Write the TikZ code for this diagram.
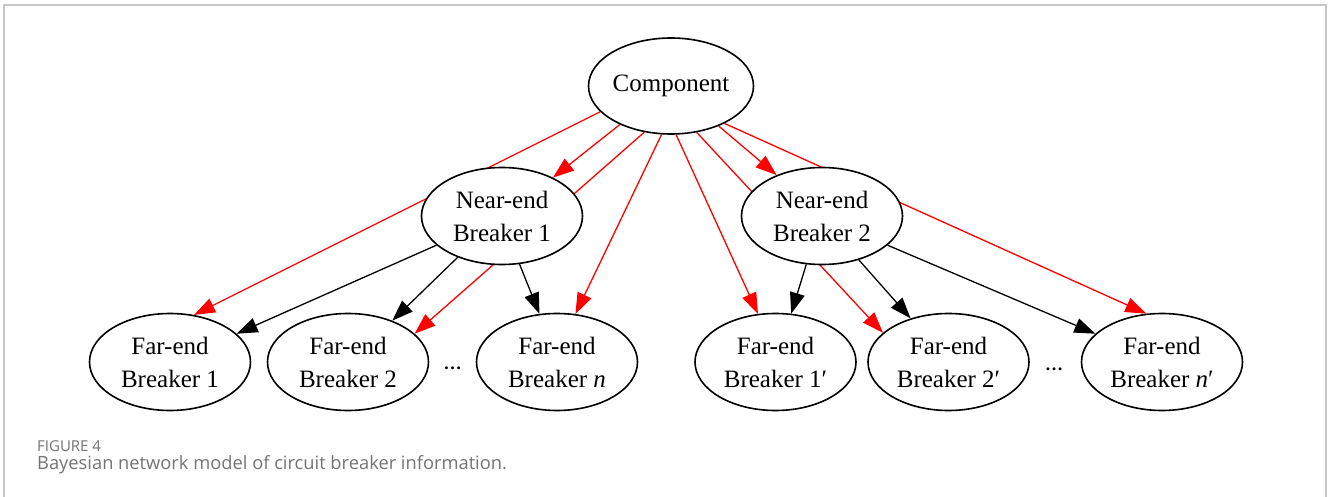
\documentclass[tikz,border=0pt]{standalone}
\usepackage{fontspec}
\setmainfont{Liberation Serif}
\newfontfamily\capfont{Open Sans}
\usetikzlibrary{shapes.geometric,arrows.meta}
\pgfdeclarelayer{edges}
\pgfsetlayers{edges,main}
\definecolor{framegray}{RGB}{200,200,200}
\definecolor{capgray}{RGB}{115,115,115}
\tikzset{
  bnode/.style={ellipse, draw=black, line width=1.6pt, fill=white, inner sep=0pt,
    minimum width=161pt, minimum height=97pt, align=center,
    font=\fontsize{25pt}{33pt}\selectfont},
  toplevel/.style={bnode, minimum height=96pt, minimum width=160pt},
  redarc/.style={draw=red, line width=1.3pt, -{Triangle[length=21pt,width=15pt]}},
  blackarc/.style={draw=black, line width=1.3pt, -{Triangle[length=21pt,width=15pt]}},
  dots/.style={inner sep=0pt, font=\fontsize{18pt}{18pt}\selectfont\bfseries},
}
\begin{document}
\begin{tikzpicture}[x=1pt,y=-1pt]
\useasboundingbox (0,0) rectangle (1328,497);
% frame
\draw[framegray, line width=1.5pt] (4,497) -- (4,5) -- (1326,5) -- (1326,497);

% nodes
\node[toplevel] (comp) at (671,86) {Component};
\node[bnode] (n1) at (502,216) {Near-end\\Breaker 1};
\node[bnode] (n2) at (822,216) {Near-end\\Breaker 2};
\node[bnode] (f1) at (170,362) {Far-end\\Breaker 1};
\node[bnode] (f2) at (348,362) {Far-end\\Breaker 2};
\node[bnode] (fn) at (557,362) {Far-end\\Breaker \textit{n}};
\node[bnode] (g1) at (775.5,362) {Far-end\\Breaker 1′};
\node[bnode] (g2) at (948.5,362) {Far-end\\Breaker 2′};
\node[bnode] (gn) at (1162,362) {Far-end\\Breaker \textit{n}′};
\node[dots] (d1) at (452.7,368) {…};
\node[dots] (d2) at (1054,369) {…};

% arcs, kept below the nodes
\begin{pgfonlayer}{edges}
\draw[redarc] (comp.217.9) -- (n1.37.5);
\draw[redarc] (comp.200.3) -- (f1.63.9);
\draw[redarc] (comp.240.6) -- (f2.23.2);
\draw[redarc] (comp.259.3) -- (fn.69.8);
\draw[redarc] (comp.276.6) -- (g1.110.5);
\draw[redarc] (comp.299.4) -- (g2.156.4);
\draw[redarc] (comp.320.2) -- (n2.138.9);
\draw[redarc] (comp.325.4) -- (gn.108);
\draw[blackarc] (n1.204.6) -- (f1.23.5);
\draw[blackarc] (n1.223.7) -- (f2.43.2);
\draw[blackarc] (n1.290.9) -- (fn.110.2);
\draw[blackarc] (n2.252.7) -- (g1.72.1);
\draw[blackarc] (n2.310.8) -- (g2.131.4);
\draw[blackarc] (n2.336.4) -- (gn.157.3);
\end{pgfonlayer}

% caption
\node[anchor=base west, inner sep=0pt, text=capgray, font=\capfont\fontsize{15pt}{15pt}\selectfont] (figlabel) at (37,451) {FIGURE 4};
\node[anchor=base west, inner sep=0pt, text=capgray, font=\capfont\fontsize{18.3pt}{18.3pt}\selectfont] (figtitle) at (37,469.5) {Bayesian network model of circuit breaker information.};
\end{tikzpicture}
\end{document}
